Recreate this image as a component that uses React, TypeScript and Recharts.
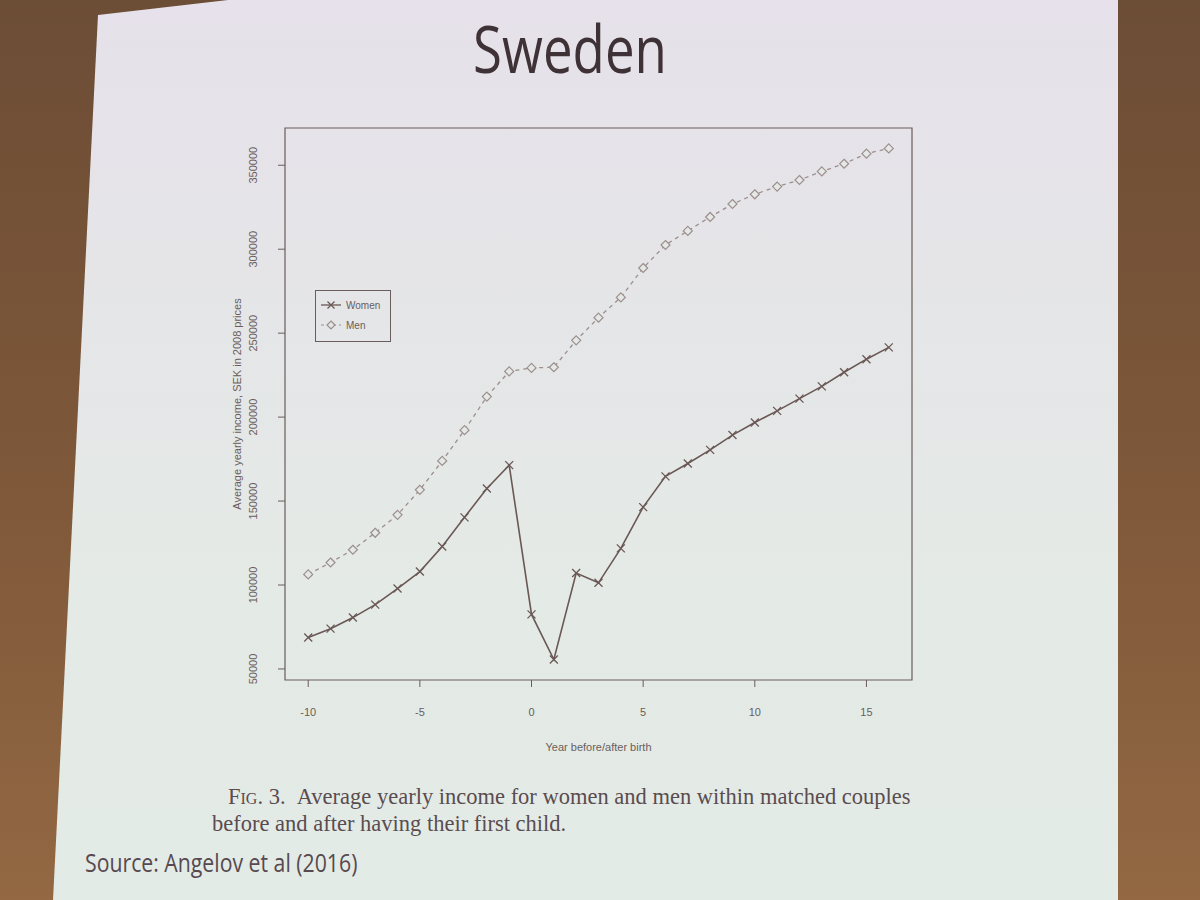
import React from "react";
import { LineChart, Line, XAxis, YAxis, ReferenceArea } from "recharts";

// years relative to first birth
const years = [-10, -9, -8, -7, -6, -5, -4, -3, -2, -1, 0, 1, 2, 3, 4, 5, 6, 7, 8, 9, 10, 11, 12, 13, 14, 15, 16];

// average yearly income, SEK in 2008 prices
const women = [
  68700, 74000, 80600, 88300, 97900, 108000, 122900, 140300, 157500, 171400, 82500, 55600, 107100, 101300,
  121800, 146400, 164700, 172400, 180500, 189300, 196800, 203700, 211000, 218300, 226700, 234500, 241500,
];
const men = [
  106300, 113400, 121000, 131100, 141800, 156700, 173900, 192200, 212200, 227200, 229300, 229700, 245700, 259200,
  271300, 288800, 302500, 310900, 319200, 326900, 332700, 337300, 341200, 346300, 350900, 356900, 360000,
];

const xTicks = [-10, -5, 0, 5, 10, 15];
const yTicks = [50000, 100000, 150000, 200000, 250000, 300000, 350000];
const xDomain: [number, number] = [-11.04, 17.04];
const yDomain: [number, number] = [43424, 372176];

const data = years.map((year, i) => ({ year, women: women[i], men: men[i] }));

const INK = "#6b5d5b";
const WOMEN_COLOR = "#6a5855";
const MEN_COLOR = "#9c8f8c";
const AXIS_FONT = "'Liberation Sans', Arial, sans-serif";

const womenDot = (p: any) => {
  const { cx, cy, index } = p;
  const r = 4;
  return (
    <path
      key={`w${index}`}
      d={`M${cx - r},${cy - r}L${cx + r},${cy + r}M${cx - r},${cy + r}L${cx + r},${cy - r}`}
      stroke={WOMEN_COLOR}
      strokeWidth={1.3}
      fill="none"
    />
  );
};

const menDot = (p: any) => {
  const { cx, cy, index } = p;
  const r = 4.5;
  return (
    <path
      key={`m${index}`}
      d={`M${cx},${cy - r}L${cx + r},${cy}L${cx},${cy + r}L${cx - r},${cy}Z`}
      stroke={MEN_COLOR}
      strokeWidth={1.2}
      fill="#e4e8e6"
    />
  );
};

const YTick = (p: any) => {
  const { x, y, payload } = p;
  const bx = x - 19;
  return (
    <text
      x={bx}
      y={y}
      transform={`rotate(-90, ${bx}, ${y})`}
      textAnchor="middle"
      fontSize={11}
      fontFamily={AXIS_FONT}
      fill={INK}
    >
      {payload.value}
    </text>
  );
};

const LegendBox = () => (
  <div
    style={{
      position: "absolute",
      left: 315,
      top: 290,
      border: `1px solid ${INK}`,
      width: 76,
      height: 52,
      boxSizing: "border-box",
    }}
  >
    <svg width={74} height={50} style={{ display: "block" }}>
      <line x1={5} y1={14} x2={25} y2={14} stroke={WOMEN_COLOR} strokeWidth={1.3} />
      <path d="M11.5,10.5L18.5,17.5M11.5,17.5L18.5,10.5" stroke={WOMEN_COLOR} strokeWidth={1.3} />
      <text x={30} y={18} fontSize={10} fontFamily={AXIS_FONT} fill={INK}>
        Women
      </text>
      <line x1={5} y1={34} x2={25} y2={34} stroke={MEN_COLOR} strokeWidth={1.2} strokeDasharray="3 3" />
      <path d="M15,30L19,34L15,38L11,34Z" stroke={MEN_COLOR} strokeWidth={1.2} fill="#e5e6e8" />
      <text x={30} y={38} fontSize={10} fontFamily={AXIS_FONT} fill={INK}>
        Men
      </text>
    </svg>
  </div>
);

export default function App() {
  return (
    <div
      style={{
        position: "absolute",
        left: 0,
        top: 0,
        width: 1200,
        height: 900,
        overflow: "hidden",
        background: "linear-gradient(180deg, #6c4d36 0%, #7d5739 50%, #936843 100%)",
      }}
    >
      {/* projected slide */}
      <div
        style={{
          position: "absolute",
          left: 0,
          top: 0,
          width: 1200,
          height: 900,
          clipPath: "polygon(98px 15px, 228px 0px, 1118px 0px, 1118px 900px, 53px 900px)",
          background: "linear-gradient(180deg, #e6e1ea 0%, #e5e5e8 30%, #e4eae6 65%, #e3ebe7 100%)",
        }}
      />

      <div
        style={{
          position: "absolute",
          left: 420,
          top: 2,
          width: 300,
          textAlign: "center",
          fontFamily: "'Open Sans', sans-serif",
          fontSize: 66,
          color: "#3f3236",
          transform: "scaleX(0.8)",
          transformOrigin: "center",
        }}
      >
        Sweden
      </div>

      <div style={{ position: "absolute", left: 200, top: 100 }}>
        <LineChart width={740} height={680} data={data} margin={{ top: 28, right: 28, bottom: 25, left: 0 }}>
          <ReferenceArea
            x1={xDomain[0]}
            x2={xDomain[1]}
            y1={yDomain[0]}
            y2={yDomain[1]}
            fill="none"
            stroke={INK}
            strokeWidth={1.2}
          />
          <XAxis
            type="number"
            dataKey="year"
            domain={xDomain}
            ticks={xTicks}
            allowDataOverflow
            axisLine={false}
            tickLine={{ stroke: INK }}
            tickSize={7}
            tickMargin={21}
            height={75}
            tick={{ fontSize: 11, fontFamily: AXIS_FONT, fill: INK }}
            label={{
              value: "Year before/after birth",
              position: "insideBottom",
              offset: 4,
              fontSize: 11,
              fontFamily: AXIS_FONT,
              fill: INK,
            }}
          />
          <YAxis
            type="number"
            domain={yDomain}
            ticks={yTicks}
            allowDataOverflow
            axisLine={false}
            tickLine={{ stroke: INK }}
            tickSize={7}
            width={85}
            tick={<YTick />}
            label={{
              content: (p: any) => {
                const vb = p.viewBox || { x: 0, y: 0, height: 0 };
                const tx = vb.x + 41;
                const ty = vb.y + vb.height / 2;
                return (
                  <text
                    x={tx}
                    y={ty}
                    transform={`rotate(-90, ${tx}, ${ty})`}
                    textAnchor="middle"
                    fontSize={11}
                    fontFamily={AXIS_FONT}
                    fill={INK}
                  >
                    Average yearly income, SEK in 2008 prices
                  </text>
                );
              },
            }}
          />
          <Line
            name="Men"
            dataKey="men"
            stroke={MEN_COLOR}
            strokeWidth={1.3}
            strokeDasharray="4 4"
            dot={menDot}
            activeDot={false}
            isAnimationActive={false}
          />
          <Line
            name="Women"
            dataKey="women"
            stroke={WOMEN_COLOR}
            strokeWidth={1.6}
            dot={womenDot}
            activeDot={false}
            isAnimationActive={false}
          />
        </LineChart>
      </div>

      <LegendBox />

      <div
        style={{
          position: "absolute",
          left: 228,
          top: 783,
          width: 720,
          fontFamily: "'Liberation Serif', 'DejaVu Serif', serif",
          fontSize: 22.5,
          lineHeight: "27px",
          color: "#5a4c4f",
          whiteSpace: "nowrap",
        }}
      >
        <div>
          <span style={{ fontVariant: "small-caps" }}>Fig. 3.</span>&nbsp;&nbsp;Average yearly income for women and
          men within matched couples
        </div>
        <div style={{ marginLeft: -16 }}>before and after having their first child.</div>
      </div>

      <div
        style={{
          position: "absolute",
          left: 85,
          top: 845,
          fontFamily: "'Open Sans', sans-serif",
          fontSize: 25,
          color: "#57494f",
          whiteSpace: "nowrap",
          transform: "scaleX(0.85)",
          transformOrigin: "left center",
        }}
      >
        Source: Angelov et al (2016)
      </div>
    </div>
  );
}
